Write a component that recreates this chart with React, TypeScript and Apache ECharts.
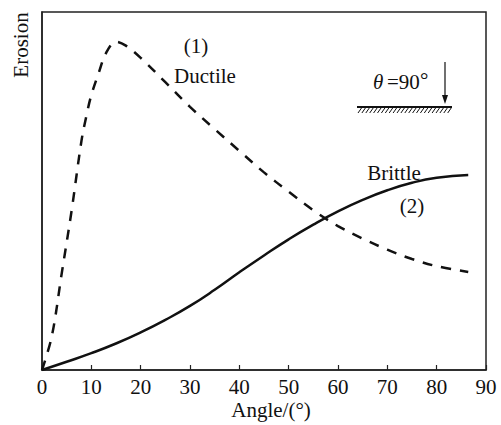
import React, { useEffect, useRef } from "react";
import * as echarts from "echarts";

const xTicks = [0, 10, 20, 30, 40, 50, 60, 70, 80, 90];

// Ductile (dashed) curve: [angle, erosion]
const ductileAngles = [0, 2, 4, 6, 8, 9, 10, 11.5, 13, 15, 17, 20, 25, 30, 35, 40, 45, 50, 55, 60, 65, 70, 75, 80, 86.4];
const ductileValues = [0, 9.5, 27, 44.5, 64, 71, 76.8, 83, 88.6, 91.7, 90.6, 87.2, 80.4, 73.5, 67.3, 61.2, 55.2, 49.8, 44.6, 40.2, 36.7, 33.6, 31.0, 29.0, 27.4];

// Brittle (solid) curve
const brittleAngles = [0, 5, 10, 15, 20, 25, 30, 35, 40, 45, 50, 55, 60, 65, 70, 75, 80, 86.4];
const brittleValues = [0, 2.3, 4.7, 7.4, 10.5, 14.0, 17.9, 22.4, 27.3, 32.0, 36.5, 40.6, 44.3, 47.5, 50.2, 52.3, 53.7, 54.5];

const FONT = "Liberation Serif";
const INK = "#111";

export default function App() {
  const ref = useRef<HTMLDivElement>(null);
  useEffect(() => {
    if (!ref.current) return;
    const chart = echarts.init(ref.current, null, { renderer: "svg" });
    const hatches: any[] = [];
    for (let i = 0; i < 24; i++) {
      const x0 = 358 + i * 3.9;
      hatches.push({
        type: "line",
        shape: { x1: x0, y1: 113, x2: x0 + 3.5, y2: 108 },
        style: { stroke: INK, lineWidth: 1 },
      });
    }
    const txt = (t: string, x: number, y: number, extra: any = {}, align = "center") => ({
      type: "text",
      x,
      y,
      style: {
        text: t,
        fill: INK,
        font: `21px "${FONT}"`,
        textAlign: align,
        textVerticalAlign: "middle",
        ...extra,
      },
    });
    chart.setOption({
      animation: false,
      grid: {
        left: 42,
        right: 15,
        top: 12,
        bottom: 55,
        show: true,
        borderColor: "#222",
        borderWidth: 1.5,
      },
      xAxis: {
        type: "value",
        min: xTicks[0],
        max: xTicks[xTicks.length - 1],
        interval: 10,
        axisLine: { show: true, lineStyle: { color: "#222", width: 1.5 } },
        axisTick: { show: true, inside: true, length: 5, lineStyle: { color: "#222", width: 1.2 } },
        axisLabel: { color: INK, fontFamily: FONT, fontSize: 21, margin: 6 },
        splitLine: { show: false },
      },
      yAxis: {
        type: "value",
        min: 0,
        max: 100,
        axisLine: { show: true, lineStyle: { color: "#222", width: 1.5 } },
        axisTick: { show: false },
        axisLabel: { show: false },
        splitLine: { show: false },
      },
      series: [
        {
          type: "line",
          data: ductileAngles.map((a, i) => [a, ductileValues[i]]),
          smooth: 0.35,
          showSymbol: false,
          lineStyle: { color: INK, width: 2.5, type: [10, 9] },
        },
        {
          type: "line",
          data: brittleAngles.map((a, i) => [a, brittleValues[i]]),
          smooth: 0.5,
          showSymbol: false,
          lineStyle: { color: INK, width: 2.5 },
        },
      ],
      graphic: [
        { ...txt("Erosion", 21, 45), rotation: Math.PI / 2 },
        txt("(1)", 196, 46),
        txt("Ductile", 205, 76),
        txt("Brittle", 394, 173),
        txt("(2)", 412, 206),
        txt("Angle/(°)", 271, 410),
        txt("θ", 373, 82, { font: `italic 21px "${FONT}"` }, "left"),
        txt("=90", 387, 82, {}, "left"),
        txt("°", 420, 80, {}, "left"),
        {
          type: "line",
          shape: { x1: 445, y1: 62, x2: 445, y2: 98 },
          style: { stroke: INK, lineWidth: 1.2 },
        },
        {
          type: "polygon",
          shape: { points: [[442, 95], [448, 95], [445, 104]] },
          style: { fill: INK },
        },
        {
          type: "line",
          shape: { x1: 357, y1: 107, x2: 452, y2: 107 },
          style: { stroke: INK, lineWidth: 2 },
        },
        ...hatches,
      ],
    });
    return () => chart.dispose();
  }, []);
  return (
    <div
      ref={ref}
      style={{ position: "absolute", left: 0, top: 0, width: 501, height: 425, background: "#fff" }}
    />
  );
}
